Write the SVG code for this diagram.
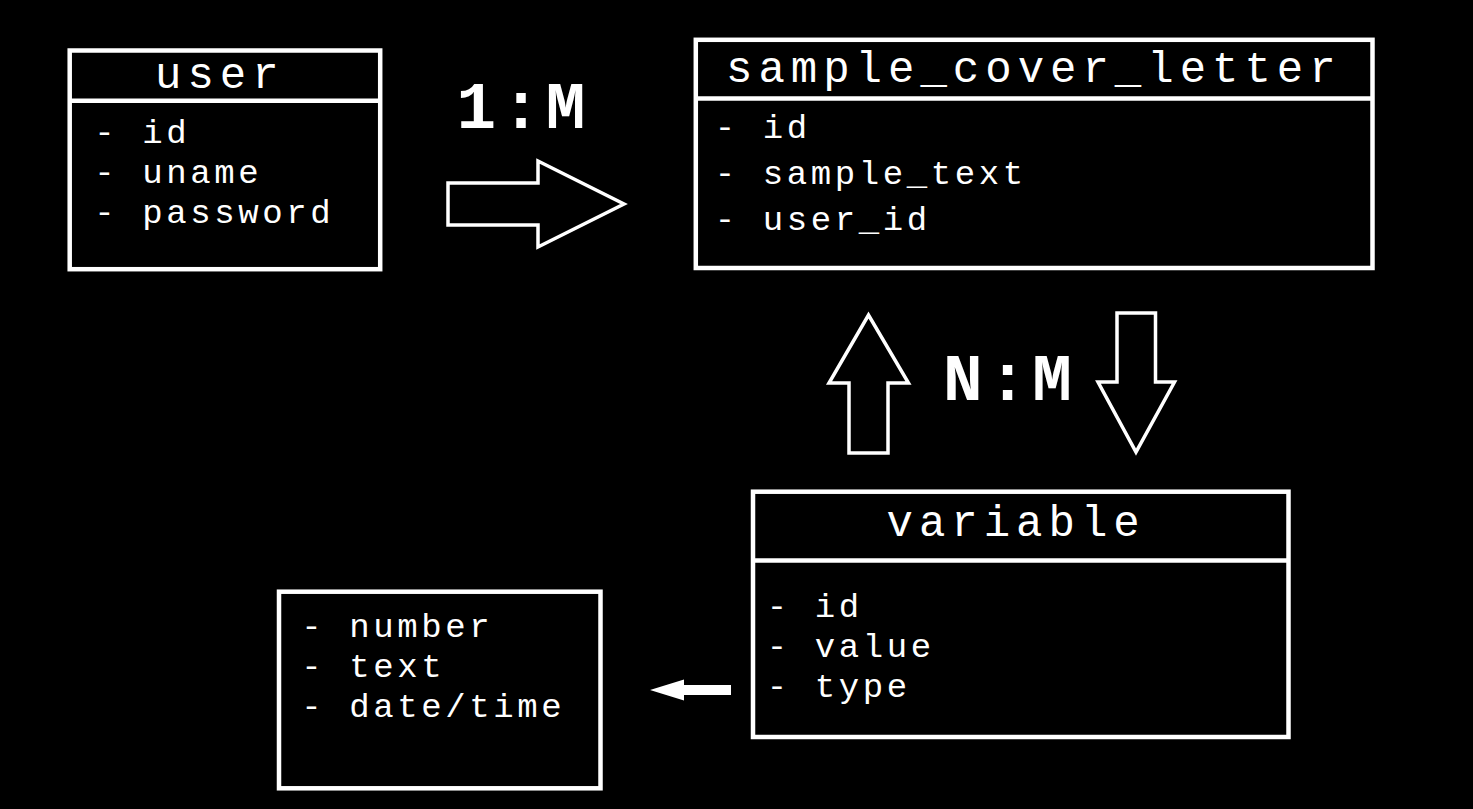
<svg xmlns="http://www.w3.org/2000/svg" width="1473" height="809" viewBox="0 0 1473 809">
  <style>
    .box { fill: #000; stroke: #fff; stroke-width: 4.5; }
    .div { stroke: #fff; stroke-width: 4.5; }
    .title { font-family: "Liberation Mono", "Courier New", monospace; font-size: 44px; letter-spacing: 6px; fill: #fff; }
    .item { font-family: "Liberation Mono", "Courier New", monospace; font-size: 34px; letter-spacing: 3.6px; fill: #fff; }
    .rel { font-family: "Liberation Mono", "Courier New", monospace; font-size: 66px; letter-spacing: 5px; font-weight: bold; fill: #fff; text-anchor: middle; }
    .arrow { fill: #000; stroke: #fff; stroke-width: 3.5; stroke-linejoin: miter; }
    .solid { fill: #fff; stroke: none; }
  </style>
  <rect x="0" y="0" width="1473" height="809" fill="#000"/>

  <g id="user">
    <rect class="box" x="69.7" y="50.5" width="310.5" height="218.7"/>
    <line class="div" x1="69.7" y1="100.8" x2="380.2" y2="100.8"/>
    <text class="title" x="155" y="88.3">user</text>
    <text class="item" x="94.3" y="143.3">- id</text>
    <text class="item" x="94.3" y="183.3">- uname</text>
    <text class="item" x="94.3" y="223.3">- password</text>
  </g>

  <g id="sample_cover_letter">
    <rect class="box" x="695.8" y="39.8" width="676.7" height="228.2"/>
    <line class="div" x1="695.8" y1="98.5" x2="1372.5" y2="98.5"/>
    <text class="title" x="726" y="81.7">sample_cover_letter</text>
    <text class="item" x="714.8" y="138.3">- id</text>
    <text class="item" x="714.8" y="184">- sample_text</text>
    <text class="item" x="714.8" y="230">- user_id</text>
  </g>

  <g id="variable">
    <rect class="box" x="753" y="491.7" width="535.5" height="245.3"/>
    <line class="div" x1="753" y1="560.5" x2="1288.5" y2="560.5"/>
    <text class="title" x="886.5" y="536">variable</text>
    <text class="item" x="766.8" y="616.7">- id</text>
    <text class="item" x="766.8" y="656.7">- value</text>
    <text class="item" x="766.8" y="696.7">- type</text>
  </g>

  <g id="types">
    <rect class="box" x="279" y="591.7" width="321.5" height="196.6"/>
    <text class="item" x="301.3" y="637.3">- number</text>
    <text class="item" x="301.3" y="677.3">- text</text>
    <text class="item" x="301.3" y="717.3">- date/time</text>
  </g>

  <g id="connectors">
    <path class="arrow" d="M448,183 H538 V161 L624,204 L538,247 V225 H448 Z"/>
    <path class="arrow" d="M849,453 V383 H829 L868.5,315 L908.5,383 H888 V453 Z"/>
    <path class="arrow" d="M1117,313 H1155.5 V382 H1174.5 L1136,452 L1098,382 H1117 Z"/>
    <path class="solid" d="M731,685 H684 V679.5 L650,690 L684,700.5 V695 H731 Z"/>
    <text class="rel" x="523.5" y="128.3">1:M</text>
    <text class="rel" x="1010" y="400">N:M</text>
  </g>
</svg>
